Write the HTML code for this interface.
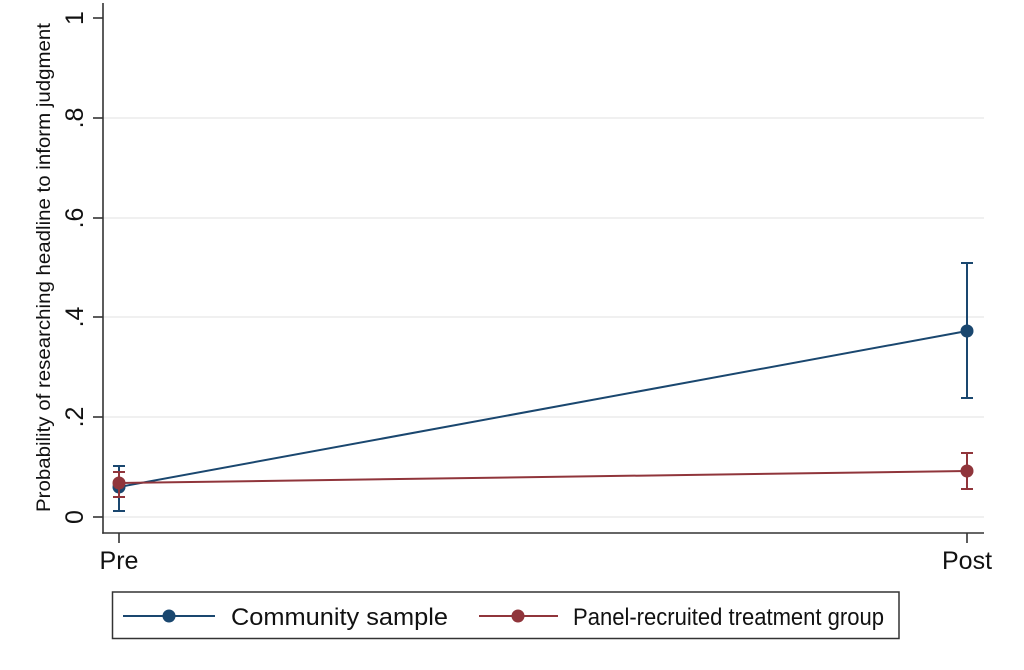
<!DOCTYPE html>
<html>
<head>
<meta charset="utf-8">
<style>
html,body{margin:0;padding:0;background:#fff;}
svg{display:block;}
text{font-family:"Liberation Sans",Arial,sans-serif;fill:#111;}
</style>
</head>
<body>
<svg width="1024" height="670" viewBox="0 0 1024 670" xmlns="http://www.w3.org/2000/svg">
<rect width="1024" height="670" fill="#fff"/>
<!-- gridlines -->
<g stroke="#ebebeb" stroke-width="1.5">
<line x1="103" y1="517" x2="984" y2="517"/>
<line x1="103" y1="417" x2="984" y2="417"/>
<line x1="103" y1="317" x2="984" y2="317"/>
<line x1="103" y1="218" x2="984" y2="218"/>
<line x1="103" y1="118" x2="984" y2="118"/>
</g>
<!-- axes -->
<g stroke="#333" stroke-width="1.6">
<line x1="103" y1="3" x2="103" y2="533.8"/>
<line x1="102.2" y1="533" x2="984" y2="533"/>
<line x1="93" y1="517" x2="103" y2="517"/>
<line x1="93" y1="417" x2="103" y2="417"/>
<line x1="93" y1="317" x2="103" y2="317"/>
<line x1="93" y1="218" x2="103" y2="218"/>
<line x1="93" y1="118" x2="103" y2="118"/>
<line x1="93" y1="18" x2="103" y2="18"/>
<line x1="119" y1="533" x2="119" y2="543"/>
<line x1="967" y1="533" x2="967" y2="543"/>
</g>
<!-- y tick labels -->
<g font-size="25" text-anchor="middle">
<text transform="translate(83,517) rotate(-90)">0</text>
<text transform="translate(83,417) rotate(-90)">.2</text>
<text transform="translate(83,317) rotate(-90)">.4</text>
<text transform="translate(83,218) rotate(-90)">.6</text>
<text transform="translate(83,118) rotate(-90)">.8</text>
<text transform="translate(83,18) rotate(-90)">1</text>
</g>
<!-- y title -->
<text transform="translate(50,512) rotate(-90)" font-size="19.5" textLength="489" lengthAdjust="spacingAndGlyphs">Probability of researching headline to inform judgment</text>
<!-- x tick labels -->
<g font-size="25" text-anchor="middle">
<text x="119" y="569">Pre</text>
<text x="967" y="569">Post</text>
</g>
<!-- blue series -->
<g stroke="#1a476f" stroke-width="2" fill="none">
<line x1="119" y1="487" x2="967" y2="331"/>
<line x1="119" y1="466" x2="119" y2="511"/>
<line x1="113" y1="466" x2="125" y2="466"/>
<line x1="113" y1="511" x2="125" y2="511"/>
<line x1="967" y1="263" x2="967" y2="398"/>
<line x1="961" y1="263" x2="973" y2="263"/>
<line x1="961" y1="398" x2="973" y2="398"/>
</g>
<circle cx="119" cy="487" r="6.5" fill="#1a476f"/>
<circle cx="967" cy="331" r="6.5" fill="#1a476f"/>
<!-- red series -->
<g stroke="#90353b" stroke-width="2" fill="none">
<line x1="119" y1="483" x2="967" y2="471"/>
<line x1="119" y1="472" x2="119" y2="497"/>
<line x1="113" y1="472" x2="125" y2="472"/>
<line x1="113" y1="497" x2="125" y2="497"/>
<line x1="967" y1="453" x2="967" y2="489"/>
<line x1="961" y1="453" x2="973" y2="453"/>
<line x1="961" y1="489" x2="973" y2="489"/>
</g>
<circle cx="119" cy="483" r="6.5" fill="#90353b"/>
<circle cx="967" cy="471" r="6.5" fill="#90353b"/>
<!-- legend -->
<rect x="112.5" y="592" width="786.5" height="46.5" fill="#fff" stroke="#333" stroke-width="1.5"/>
<line x1="123" y1="616" x2="215" y2="616" stroke="#1a476f" stroke-width="2"/>
<circle cx="169" cy="616" r="6.5" fill="#1a476f"/>
<text x="231" y="625" font-size="24" textLength="217" lengthAdjust="spacingAndGlyphs">Community sample</text>
<line x1="479" y1="616" x2="558" y2="616" stroke="#90353b" stroke-width="2"/>
<circle cx="518" cy="616" r="6.5" fill="#90353b"/>
<text x="573" y="625" font-size="24" textLength="311" lengthAdjust="spacingAndGlyphs">Panel-recruited treatment group</text>
</svg>
</body>
</html>
